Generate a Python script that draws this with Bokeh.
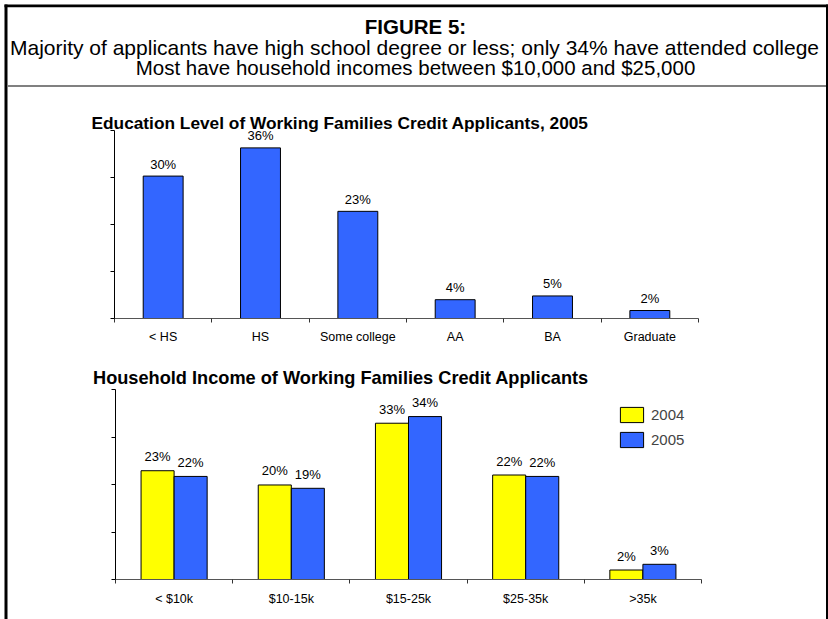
from bokeh.plotting import figure
from bokeh.models import (Range1d, LinearAxis, FixedTicker, ColumnDataSource, Legend, LegendItem)
from bokeh.transform import dodge
from bokeh.core.properties import value
from bokeh.embed import file_html
from bokeh.resources import INLINE

# ---------------- data ----------------
FIG_TITLE = "FIGURE 5:"
SUBTITLE_1 = "Majority of applicants have high school degree or less; only 34% have attended college"
SUBTITLE_2 = "Most have household incomes between $10,000 and $25,000"

EDU_TITLE = "Education Level of Working Families Credit Applicants, 2005"
edu_categories = ["< HS", "HS", "Some college", "AA", "BA", "Graduate"]
edu_share_2005 = [30.3, 36.3, 22.8, 4.0, 4.8, 1.7]

INC_TITLE = "Household Income of Working Families Credit Applicants"
inc_categories = ["< $10k", "$10-15k", "$15-25k", "$25-35k", ">35k"]
inc_share_2004 = [22.9, 19.9, 32.9, 22.0, 2.0]
inc_share_2005 = [21.7, 19.2, 34.3, 21.7, 3.2]
years = ["2004", "2005"]

y_ticks = [0, 10, 20, 30, 40]
Y_MAX = 40

# ---------------- layout / styles ----------------
W, H = 828, 619
FONT = "Liberation Sans"
BLUE = "#3366FF"
YELLOW = "#FFFF00"
EDU_BOX = dict(left=114, right=698, top=130, bottom=318)
INC_BOX = dict(left=115, right=701, top=389, bottom=579)


def pct(v):
    return ["%d%%" % round(x) for x in v]


def x_range_for(box, n):
    unit = (box["right"] - box["left"]) / n
    return Range1d(-box["left"] / unit, n + (W - box["right"]) / unit)


def y_range_for(box):
    unit = (box["bottom"] - box["top"]) / Y_MAX
    return Range1d(-(H - box["bottom"]) / unit, Y_MAX + box["top"] / unit)


p = figure(width=W, height=H, x_range=Range1d(0, W), y_range=Range1d(H, 0),
           min_border=0, x_axis_location=None, y_axis_location=None,
           output_backend="svg", toolbar_location=None)
p.xgrid.visible = False
p.ygrid.visible = False
p.outline_line_color = None
p.background_fill_color = "white"
p.border_fill_color = "white"

p.extra_x_ranges = {"edu_x": x_range_for(EDU_BOX, len(edu_categories)),
                    "inc_x": x_range_for(INC_BOX, len(inc_categories))}
p.extra_y_ranges = {"edu_y": y_range_for(EDU_BOX), "inc_y": y_range_for(INC_BOX)}

# ---------------- frame decoration ----------------
p.quad(left=[4, 4, 825.5, 7], right=[828, 7, 828, 825.5],
       top=[4, 4, 4, 84.5], bottom=[6.8, H, H, 86.5],
       fill_color=["black", "black", "black", "#808080"], line_color=None)
p.text(x=[415], y=[26], text=[FIG_TITLE], text_font=value(FONT), text_font_style="bold",
       text_font_size="20.5px", text_align="center", text_baseline="alphabetic", text_color="black")
p.text(x=[414], y=[47], text=[SUBTITLE_1], text_font=value(FONT),
       text_font_size="21px", text_align="center", text_baseline="alphabetic", text_color="black")
p.text(x=[415], y=[67], text=[SUBTITLE_2], text_font=value(FONT),
       text_font_size="20.5px", text_align="center", text_baseline="alphabetic", text_color="black")
p.text(x=[91], y=[122], text=[EDU_TITLE], text_font=value(FONT),
       text_font_style="bold", text_font_size="17.3px", text_align="left",
       text_baseline="alphabetic", text_color="black")
p.text(x=[92.5], y=[377], text=[INC_TITLE], text_font=value(FONT),
       text_font_style="bold", text_font_size="18.2px", text_align="left",
       text_baseline="alphabetic", text_color="black")


def add_axes(xr, yr, box, cats, standoff):
    n = len(cats)
    yax = LinearAxis(x_range_name="default", y_range_name=yr, fixed_location=box["left"],
                     bounds=(0, Y_MAX), ticker=FixedTicker(ticks=y_ticks),
                     major_label_overrides={t: "" for t in y_ticks},
                     major_tick_out=4, major_tick_in=0, minor_tick_out=0, minor_tick_in=0,
                     axis_line_color="black", major_tick_line_color="black")
    p.add_layout(yax, "left")
    centers = [i + 0.5 for i in range(n)]
    edges = [float(i) for i in range(n + 1)]
    xax = LinearAxis(x_range_name=xr, y_range_name=yr, fixed_location=0, bounds=(0, n),
                     ticker=FixedTicker(ticks=centers, minor_ticks=edges),
                     major_label_overrides=dict(zip(centers, cats)),
                     major_tick_out=0, major_tick_in=0, minor_tick_out=4, minor_tick_in=0,
                     axis_line_color="#555555", minor_tick_line_color="#333333",
                     major_label_standoff=standoff,
                     major_label_text_font=FONT, major_label_text_font_size="12.5px",
                     major_label_text_color="black")
    p.add_layout(xax, "below")
    return centers


# ---------------- chart 1: education ----------------
edu_centers = add_axes("edu_x", "edu_y", EDU_BOX, edu_categories, 7)
src1 = ColumnDataSource(dict(x=edu_centers, val=edu_share_2005, lab=pct(edu_share_2005)))
p.vbar(x="x", top="val", bottom=0, width=0.41, source=src1, fill_color=BLUE,
       line_color="black", line_width=1, x_range_name="edu_x", y_range_name="edu_y")
p.text(x="x", y="val", text="lab", source=src1, text_align="center", text_baseline="alphabetic",
       y_offset=-12, text_font=value(FONT), text_font_size="13px", text_color="black",
       x_range_name="edu_x", y_range_name="edu_y")

# ---------------- chart 2: income ----------------
inc_centers = add_axes("inc_x", "inc_y", INC_BOX, inc_categories, 8)
src2 = ColumnDataSource(dict(x=inc_centers, y2004=inc_share_2004, y2005=inc_share_2005,
                             l2004=pct(inc_share_2004), l2005=pct(inc_share_2005)))
BW = 0.282
r04 = p.vbar(x=dodge("x", -BW / 2), top="y2004", bottom=0, width=BW, source=src2,
             fill_color=YELLOW, line_color="black", line_width=1,
             x_range_name="inc_x", y_range_name="inc_y")
r05 = p.vbar(x=dodge("x", BW / 2), top="y2005", bottom=0, width=BW, source=src2,
             fill_color=BLUE, line_color="black", line_width=1,
             x_range_name="inc_x", y_range_name="inc_y")
for off, ycol, lcol in ((-BW / 2, "y2004", "l2004"), (BW / 2, "y2005", "l2005")):
    p.text(x=dodge("x", off), y=ycol, text=lcol, source=src2, text_align="center",
           text_baseline="alphabetic", y_offset=-14, text_font=value(FONT),
           text_font_size="13px", text_color="black",
           x_range_name="inc_x", y_range_name="inc_y")

legend = Legend(items=[LegendItem(label=years[0], renderers=[r04]),
                       LegendItem(label=years[1], renderers=[r05])],
                location=(617, 170), glyph_width=29, glyph_height=19, label_height=19,
                spacing=6, padding=0, margin=0, label_standoff=5,
                border_line_color=None, background_fill_alpha=0,
                label_text_font=FONT, label_text_font_size="15px")
p.add_layout(legend)

open("out.html", "w").write(file_html(p, INLINE))
